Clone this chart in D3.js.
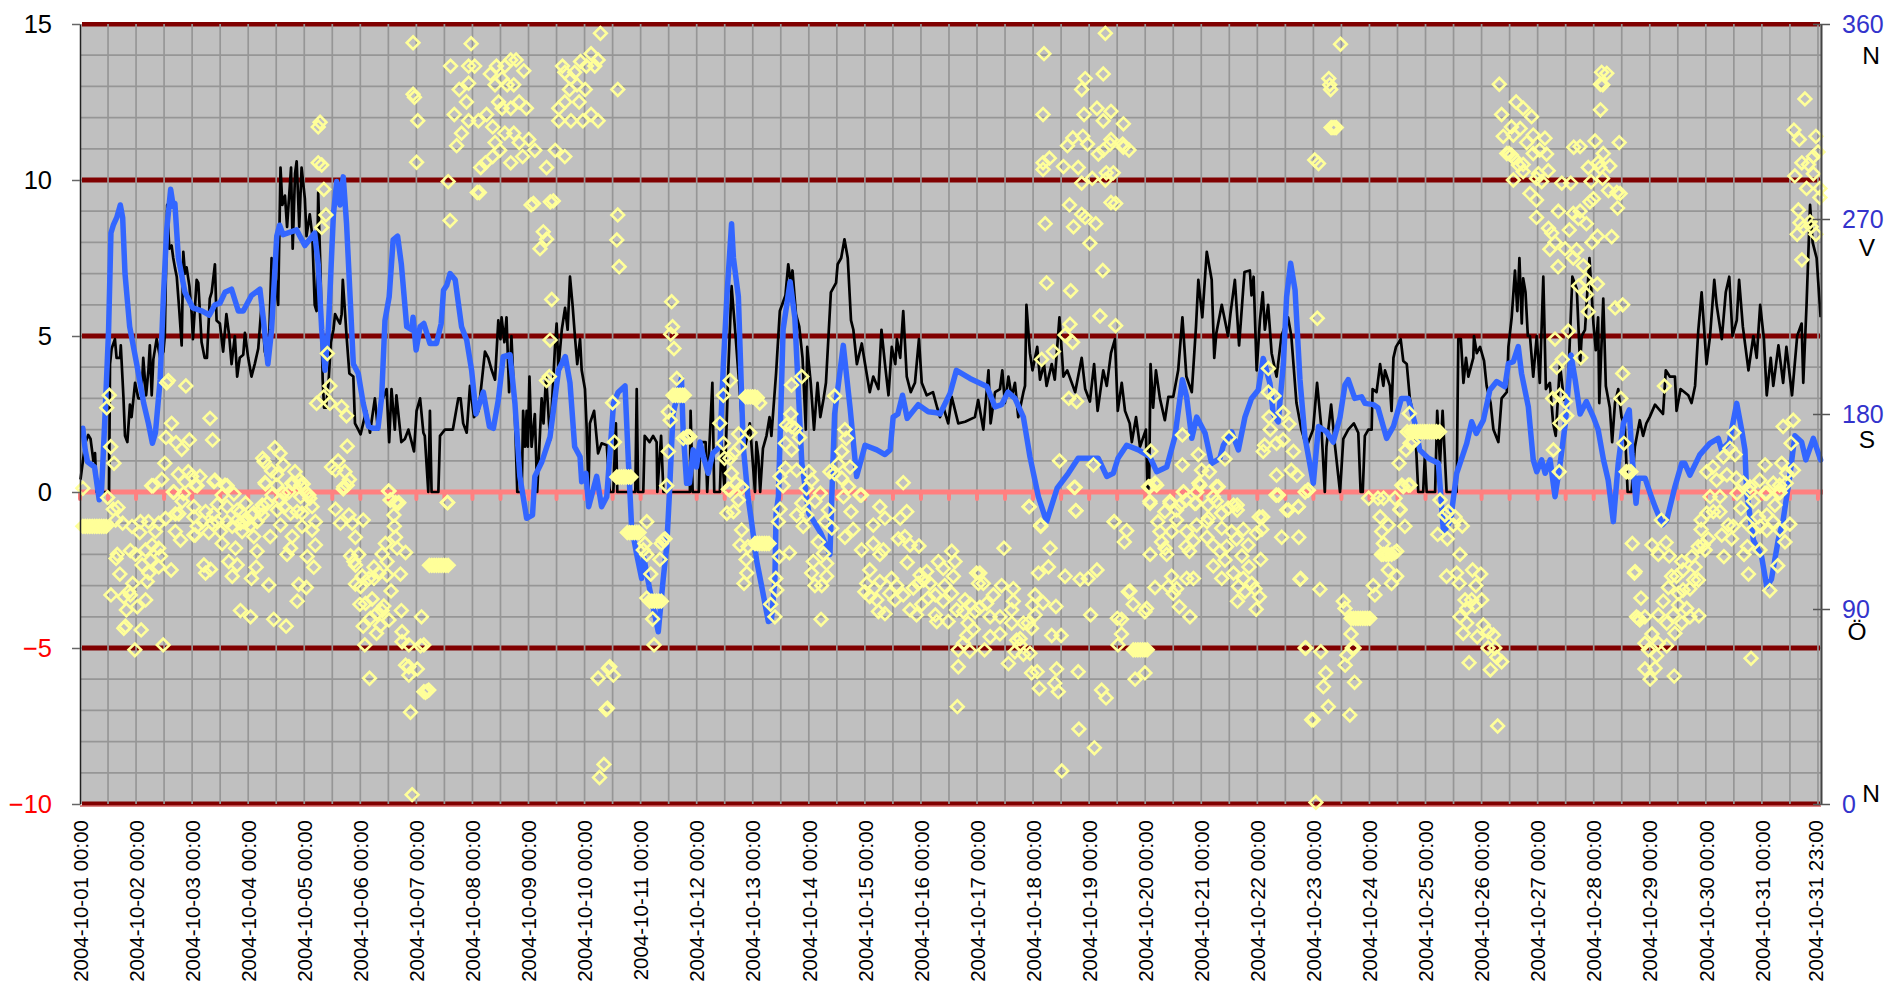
<!DOCTYPE html>
<html>
<head>
<meta charset="utf-8">
<title>2004-10</title>
<script src="https://cdn.jsdelivr.net/npm/d3@7"></script>
<style>
  body { margin: 0; background: #fff; }
  text { font-family: "Liberation Sans", Arial, sans-serif; }
</style>
</head>
<body>
<script>
// All series: [hour since 2004-10-01 00:00, value]
var blackPoints = [[0,0.4],[2,1.56],[3.3,1.83],[4.3,1.7],[5.5,1],[6.2,1.25],[6.9,0],[11.2,0],[12.2,0],[12.6,4.1],[13.3,4.6],[14.7,4.9],[15.4,4.3],[16.9,4.3],[17.2,4.7],[18.3,3.1],[19,1.8],[20,1.6],[21.1,2.8],[21.8,2.4],[23.3,3.5],[24.7,3],[26,3],[26.8,4.3],[28,3.1],[29,3.9],[29.6,4.7],[30.4,3.1],[31.1,4.25],[32.5,4.9],[34,4.3],[35.4,4.5],[36,5],[37,9.2],[37.9,7.8],[38.9,7.9],[39.6,7.5],[40.3,7.2],[41.1,6.9],[42.2,5.8],[43.2,4.7],[43.9,7.7],[44.6,7],[45.3,7.2],[46.5,6.6],[47.5,5.7],[48,4.9],[49.6,6.8],[50.3,6.7],[51.7,4.8],[53,4.3],[54,4.3],[55.2,6.2],[56,6.4],[57.4,7.3],[58.1,5.5],[59.5,5.4],[60.9,4.5],[62.3,5.7],[63.5,5],[64.5,4.1],[65.9,5],[66.9,3.7],[68,4.3],[69.5,4.4],[70.2,5.1],[71.6,4.3],[73,3.7],[74.4,4.1],[75.9,4.6],[77.3,6],[78.7,4.5],[80.2,4.1],[81.6,7.5],[83.1,7],[84.4,6],[85.4,10.4],[86.2,9.2],[87.3,9.5],[88.2,8.5],[89.9,10.4],[90.6,7.8],[91.6,10.2],[92.3,10.6],[93.4,8.5],[94.4,10.4],[95.8,9.4],[96.5,8.2],[97.9,8.9],[99,8.2],[100,6],[100.8,5.8],[101.5,9.6],[102.5,7],[103.4,3.6],[104,2.7],[104.8,2.7],[105.9,3.5],[106.9,4.8],[108,5.2],[108.7,5.7],[110,5.5],[110.8,5.4],[111.5,5.7],[112,6.8],[113,5.7],[113.6,5],[114.8,3.8],[116.5,3.7],[117.2,2.2],[118.6,2],[119.6,1.85],[120.7,2.2],[122,2.6],[123.6,1.9],[125.7,3],[127,2],[128.6,2.9],[130.7,3.3],[131.8,1.6],[132.8,3.3],[134.2,2],[134.9,3.1],[137,1.6],[138.5,1.7],[140,2],[141.4,1.6],[142.4,1.3],[143.5,2.6],[145,3],[146.4,1.9],[147,1.8],[148.5,0],[149.2,2.6],[149.9,0],[152.8,0],[153.5,1.8],[155.6,2],[157,2],[159,2],[161.3,3],[162.3,3],[163.4,2.2],[164.9,1.9],[166.3,3.4],[168,2.4],[170,2.6],[172.7,4.5],[174.1,4.3],[175.6,3.9],[177,3.6],[178.4,5.5],[179.3,4.9],[179.8,5.6],[181,4.8],[181.9,5.6],[183,3.2],[184,5],[185.5,2.4],[186.5,0],[188.4,0],[189,2.6],[189.8,1.45],[190.5,2.6],[191,1.45],[191.7,3.7],[192.6,1.45],[194,2.5],[195,0],[196.9,3],[197.7,2.2],[198.8,3.7],[200.5,1.67],[202.6,4.65],[203.3,5.4],[204.1,4],[205.5,5.2],[206.9,5.9],[208,5.2],[209,6.9],[210.1,6],[211.1,5],[212.1,4.1],[213.3,4.9],[214,3.9],[215.4,3.3],[216.1,2.1],[216.9,0],[217.5,2.2],[219.3,2.6],[221,1.24],[222.5,1.56],[224.7,1.5],[226,0],[227.5,0],[228.6,2.2],[229.2,0],[236.9,0],[237.5,3.3],[238.1,0],[240.3,0],[240.9,1.8],[243,1.6],[244.5,1.8],[246,1.6],[246.3,0],[247.9,1.8],[248.9,0],[260.2,0],[260.5,2.6],[261.4,0],[264,0],[264.6,1.6],[266.9,1.6],[267.6,0],[269.8,3.5],[270.6,0],[273,0],[273.7,1.6],[275,0],[276.6,3.9],[278,6.6],[279.5,5.2],[280.9,3.8],[282.3,2.4],[283.8,1.45],[285.8,2.2],[288,0],[288.6,1.6],[289.4,1.13],[290.2,0],[291.4,1.4],[292.9,1.8],[294.2,2.4],[295,1.8],[297,3.8],[298.6,5.8],[301,6.3],[302.2,7.3],[303.3,6.7],[304,7.1],[305.5,5.7],[306.9,5.3],[308.3,4.3],[309.7,2],[310.3,4.65],[311.8,3.5],[313.2,2],[314.7,3.5],[315.9,2.4],[317.3,3],[318.3,3.5],[320.4,6.4],[322.6,6.7],[323.3,7.3],[324.8,7.5],[326.2,8.1],[327.6,7.5],[329,5.5],[330,5.2],[331.5,4.1],[333.6,4.76],[335,4.1],[337,3.2],[338.5,3.7],[340.7,3.3],[342,5.2],[343.5,4.1],[345,3.1],[346.4,4.65],[347.9,4.1],[348.6,4.9],[350,4.3],[351.3,5.8],[352.8,3.7],[354.5,3.2],[356.3,3.5],[358,4.9],[359.2,3.5],[361.3,3.1],[364,3.2],[365.8,2.7],[367,2.4],[368.5,2.7],[370.5,2.2],[372,3.05],[374.8,2.2],[377.7,2.25],[381.9,2.4],[383.3,2.95],[385.5,2],[387.7,3.9],[388.6,2.2],[390.5,3.2],[392.6,3.3],[393.6,3.9],[394.7,2.85],[396.2,3.7],[397.6,3.05],[399,3.5],[400.4,2.4],[402.6,3.2],[403.3,3.4],[403.9,6],[405.4,4.45],[406.5,3.9],[408.5,4.65],[409.7,3.6],[411.4,4.1],[412.5,3.4],[414.7,4.1],[416,3.6],[418,5.6],[419.7,3.7],[421.3,3.9],[424.7,3.2],[427.5,4.3],[429,3.3],[431,2.9],[432.8,4.1],[434.3,2.6],[436.7,3.9],[438.2,3.4],[440,4.45],[441.7,4.9],[442.9,2.6],[444.6,3.5],[446,2.6],[448,2.2],[448.9,1.6],[450.7,2.4],[452.4,1.45],[454.9,2],[455.7,0],[456.3,0.3],[456.9,4.1],[458,2.7],[459.2,3.9],[460.9,3],[463,2.3],[464.5,3.05],[466.6,3.05],[468.7,3.9],[470.5,5.6],[472.2,3.7],[474.5,3.2],[476.3,5.3],[477.3,6.8],[479,5.6],[480.9,7.7],[483,6.8],[484.1,4.3],[485,5.1],[487.3,6],[490,5],[491,5.7],[492.9,6.8],[494.7,4.7],[497,7.05],[499.3,7.1],[500,6.3],[500.9,6.9],[502.2,3.9],[503.6,5.5],[504.8,6.4],[505.7,5.2],[507.1,6],[508.6,4.45],[510.7,3.7],[512.8,5],[515.6,5.6],[517,5],[519.2,2.85],[521.3,2],[523.5,1.45],[526.3,2],[528,3.5],[529.9,2],[531.3,0],[532,1.45],[534,2.8],[535.7,1.45],[537.8,0],[539.2,1.7],[541.3,2],[543.7,2.2],[545.6,1.9],[546.6,0],[547.5,0],[548.4,1.8],[549.9,2],[551.3,2],[551.7,3.3],[553.4,3.2],[554.9,4.1],[556.3,3.4],[557,3.9],[559.1,3.4],[559.8,2.6],[560.6,4.3],[561.7,4.65],[563.7,4.9],[564.8,4.2],[566.3,4.1],[567.6,3],[569.8,2.2],[571.2,0],[573.3,0],[574,1.13],[574.8,0],[578.4,0],[579.3,2.6],[580.5,0.92],[581.6,2.6],[583.3,0],[587.6,0],[588.3,4.9],[589.4,4.9],[590.5,3.5],[591.6,4.3],[592.6,3.7],[594.7,4.3],[595,5],[596.2,4.45],[597.6,4.65],[599.3,4.2],[600.4,3.4],[602.1,2.85],[603.3,2],[605.4,1.6],[606.8,3],[609,3.2],[609.7,4.65],[611.1,5.6],[612.5,7.1],[613.5,5.8],[614.4,7.5],[615.4,5.4],[616,6.85],[617,6.4],[618,5],[618.9,5],[620.3,3.7],[621.8,5],[623.1,3.5],[624.6,6.9],[625.7,3.3],[627.4,3.5],[628.8,2.2],[629.9,1.8],[631.7,4.1],[633.4,2.95],[635,3.1],[637,6.9],[638.9,6.5],[640.3,4.1],[641,5],[642.4,5.2],[644.3,7.5],[646,5.4],[647,4.55],[648,5.6],[648.5,2.85],[650.2,6.2],[651.3,3.4],[653,2.7],[654,1.6],[655.2,2.85],[656.6,3.3],[658,2.4],[659.4,2.1],[660.6,0],[662.3,0],[663.7,1.45],[665.8,2.3],[667.2,1.8],[668.6,2.2],[670,2.4],[672.3,2.8],[675.7,2.5],[676.9,3.9],[678.6,3.7],[680.8,3.7],[681.5,2.6],[683.2,3.3],[686.5,3.1],[687.9,2.85],[689.4,3.4],[690.8,5.2],[692.2,6.4],[693.2,5.3],[694.3,4.1],[695.8,5],[697.6,6.8],[698.6,6],[700.8,4.9],[702.5,6.4],[704,6.9],[705.4,5],[707.2,5.5],[708.2,6.8],[709.8,5.3],[712.2,3.9],[714.3,5],[715.7,4.3],[717.2,6],[718.8,4.9],[720,3.1],[721.7,4.3],[722.8,3.4],[725,4.7],[727,3.5],[728.4,4.65],[730.8,3.1],[733,5],[734.9,5.4],[735.6,3.5],[737,6],[738.5,9.2],[739.6,8],[741.3,7.5],[743,5.6]];

var bluePoints = [[1,2.04],[2,1.35],[3,0.97],[6,0.8],[8,-0.25],[9,0.06],[10.5,2.5],[12,5.2],[13,8.3],[14,8.55],[15.5,8.8],[17,9.2],[18,8.8],[19,7],[21,5.3],[24,4.1],[27,2.84],[29,2.2],[30.7,1.56],[32,1.9],[34,3.6],[35.4,6.26],[36.8,8.4],[38.5,9.7],[39.6,9.15],[40.3,9.25],[41.8,7.5],[44.6,6.4],[48,5.9],[52,5.8],[55,5.67],[57.4,6],[59.5,6.05],[61.7,6.4],[64.5,6.5],[67.4,5.8],[69.5,5.8],[73,6.3],[76.6,6.5],[78,5.6],[80,4.1],[81.6,5.2],[83.8,8.2],[85,8.55],[86.5,8.25],[92.3,8.4],[93.7,8.2],[95.8,7.9],[100,8.3],[101.5,7.3],[103,5.2],[104.4,3.9],[105.8,5.2],[108,8.9],[109.4,9.95],[110.8,9.2],[112.2,10.1],[113.6,8.6],[116.5,4.1],[118.6,3.8],[120.7,2.85],[123,2.1],[125,2.04],[127,2.04],[128.6,3.05],[130,5.5],[131.8,6.26],[133.5,8.08],[135.4,8.2],[137,7.3],[139.3,5.3],[141.4,5.2],[142,5.6],[143.3,4.55],[145,5.3],[146.6,5.4],[149.2,4.76],[152,4.76],[154,5.4],[155,6.47],[156.4,6.63],[157.8,7],[160,6.8],[162.7,5.3],[164.9,4.87],[167,3.9],[168.9,2.5],[172,3.2],[174.6,2.1],[176.3,2.04],[178.4,2.95],[180.5,4.34],[183.4,4.4],[185.5,2.84],[187.6,0.5],[190.5,-0.84],[193,-0.74],[194,0.5],[197,0.97],[200.5,1.77],[204.1,3.9],[207,4.34],[209,3.5],[211,1.45],[213.3,1.13],[214,0.33],[215.8,0.6],[217,-0.47],[220.4,0.5],[222.5,-0.47],[224.7,-0.15],[227.6,2.84],[229.6,3.2],[232.5,3.4],[234,0.9],[235.3,-1.1],[237.5,-2],[239.6,-2.77],[240.5,-2.1],[243,-3.1],[246.7,-4.48],[248.8,-2.8],[250.3,-1.75],[251.4,-0.15],[253,2.5],[256.6,3.64],[257.3,2],[258.8,0.28],[260,0.28],[261.6,1.35],[263,0.8],[264.5,1.6],[266,1.13],[268,0.6],[270,1.24],[273,1.45],[274.5,4.1],[276,6.26],[278,8.6],[278.8,7.5],[280.9,6.26],[283,1.45],[285,-0.15],[286.6,-1],[288.7,-2.2],[290.8,-3],[293.7,-4.15],[295,-4.1],[296.5,-2.8],[297,-0.7],[298,-0.15],[300,5.2],[303,6.74],[305,5.6],[308,0.92],[311,-0.68],[316,-1.3],[320,-2],[320.8,-0.15],[322,2.5],[325.7,4.7],[328.6,2.7],[331.4,0.5],[335,1.5],[340,1.35],[343.5,1.2],[345.7,1.35],[347,2.4],[349,2.5],[351,3.1],[353,2.36],[357.7,2.8],[362,2.57],[365.5,2.54],[367,2.5],[371.3,3.16],[374,3.9],[379.8,3.64],[387,3.38],[390.5,2.73],[393.3,2.8],[396,3.2],[399,3],[402.6,2.4],[405.4,1.13],[409,-0.15],[412.5,-0.95],[417,0.12],[421.8,0.6],[426,1.08],[430.3,1.08],[434.6,1.08],[438.2,0.5],[441,0.6],[443,1.08],[446.7,1.5],[451.7,1.35],[456.6,1.13],[459.5,0.65],[463.8,0.8],[467.3,1.77],[470.5,3.6],[472.3,3.05],[474.5,1.72],[476.6,2.4],[480.2,1.88],[483,0.92],[486.5,1.08],[488,1.5],[491.5,1.93],[494.4,1.35],[497.2,2.4],[500,3],[502.9,3.27],[505,4.28],[507.9,3.48],[509.3,2.5],[511.4,2.25],[513.6,4.1],[515,6.26],[516.7,7.33],[518.6,6.47],[520.7,3.6],[522.8,1.77],[526.4,0.28],[528.6,2.1],[532,1.93],[534.9,1.6],[537.8,2.4],[539.9,3.43],[541.3,3.6],[544.1,3],[547,3.05],[548.5,2.84],[552,2.8],[554,2.7],[557.7,1.72],[560.6,2.1],[564,3],[566.9,3],[569.8,2.2],[571.8,1.35],[575.5,1.08],[579.8,0.92],[582,-1.3],[585,-0.9],[587.6,0.6],[591.9,1.56],[594,2.25],[596,1.88],[599,2.3],[601.8,3.27],[604.7,3.54],[608.2,3.38],[609.7,4.12],[611.8,4.18],[613.9,4.66],[615.3,3.8],[618.2,2.73],[620.3,1.03],[621.8,0.65],[623.9,1.03],[625.4,0.6],[627.5,1.03],[629.6,-0.15],[631.8,0.92],[634,2.2],[636.4,4.39],[638.2,3.6],[640.3,2.5],[643,2.9],[646,2.4],[648,2],[650.3,1.03],[652.3,0.38],[654.5,-0.95],[656.6,0.92],[658.8,2.2],[661.3,2.63],[662.4,1.24],[664.2,-0.36],[665.2,0.44],[668.1,0.44],[670.2,-0.04],[672.3,-0.47],[675.5,-1.05],[677.3,-0.9],[680.8,0.17],[683.7,0.92],[685,0.92],[687.2,0.54],[691.4,1.19],[695.7,1.56],[699.3,1.72],[700.7,1.35],[704,1.6],[707.2,2.84],[709.3,1.99],[710.7,1.35],[711.4,0],[714.3,-1.54],[717.8,-2.07],[720,-3.03],[722,-2.8],[724.9,-1.54],[727,-0.9],[729.8,0.49],[732,1.8],[734.9,1.6],[736.7,1.03],[739.9,1.72],[743,1.03]];

var dirPoints = [[1,0.12],[1,-1.1],[2,-1.1],[3,-1.1],[4,-1.1],[5,-1.1],[6,-1.1],[7,-1.1],[8,-1.1],[9,-1.1],[10,-1.1],[11,-1.1],[11.2,2.7],[12.3,3.1],[12.9,1.45],[14.3,0.92],[11.6,-0.18],[14,-0.55],[16,-0.5],[15,-0.9],[18,-1],[22,-1.1],[25.6,-0.95],[25.3,-1.3],[29,-0.95],[32,-1.27],[33.4,-1],[36.3,-0.85],[40.5,-0.7],[42,-0.7],[40.5,-1.27],[42.7,-1.54],[49,-1.38],[48.4,-0.8],[31,0.2],[39.9,0],[44,-0.05],[43.4,-0.3],[48.4,-0.47],[49.8,0.2],[57,0.33],[62.6,0.2],[60.5,-0.1],[65.5,-0.06],[58.4,-0.4],[62.6,-0.47],[70.5,-0.36],[68.3,-0.63],[53.4,-0.63],[56.9,-0.7],[52,-0.95],[54.8,-1.3],[58.4,-0.95],[62.6,-0.95],[60.5,-1.65],[59.8,-1.27],[66.9,-0.9],[69.7,-0.95],[69,-1.27],[73.3,-0.74],[74,-1.43],[77.6,-0.42],[75.4,-0.95],[79,0.26],[81.8,-0.1],[86.8,-0.47],[91,0.28],[89,0],[85.4,-1.06],[89.7,-0.68],[94,0.22],[97.5,-0.1],[98.9,-0.47],[94.6,-1.1],[98.9,-1.22],[100.3,-0.95],[81,-1.43],[90.4,-1.43],[75.4,-1.9],[66.2,-1.8],[89.7,-1.8],[88.2,-2],[100.3,-1.7],[96.8,-2.07],[99.6,-2.41],[75,-2.41],[73,-2.77],[80.4,-2.98],[64.8,-2.7],[66.9,-2.34],[63.3,-2.23],[52.7,-2.34],[55.5,-2.48],[53.4,-2.6],[93.2,-2.96],[96.4,-3.06],[92.5,-3.5],[68.3,-3.8],[72.6,-4],[82.5,-4.08],[87.8,-4.3],[15.2,-2.13],[15.7,-2],[21.3,-1.88],[23.5,-2],[27.8,-1.86],[30.6,-1.7],[33.4,-1.8],[29.9,-2.18],[26.3,-2.34],[34.2,-2.05],[33.4,-2.4],[29.2,-2.6],[38.7,-2.5],[16.8,-2.63],[28.5,-2.87],[22.3,-2.93],[20.6,-3.2],[13,-3.3],[18.5,-3.36],[21.3,-3.3],[27.8,-3.46],[24.2,-3.68],[19.6,-3.78],[19.2,-4.3],[18.5,-4.37],[25.9,-4.42],[23.2,-5.06],[35.3,-4.9],[66.9,-0.58],[71.2,-0.9],[72.6,-1.06],[76.9,-0.58],[79.7,-0.36],[84,-0.58],[68.3,-1],[64.8,-1.1],[56.2,-1],[49.8,-1.1],[48.4,-1.38],[92.5,-0.63],[94.6,-0.68],[74,-0.68],[77.6,-0.74],[85.4,-0.26],[94,-0.15],[108.9,-0.55],[111,-1],[114.6,-0.74],[116,-1],[120.7,-0.9],[117.4,-1.45],[112.4,0.17],[113.9,0.22],[131.7,0.03],[132.4,-0.26],[134.5,-0.34],[135.9,-0.34],[133.8,-0.74],[134,-1.1],[134.5,-1.45],[130.2,-1.65],[135.2,-1.8],[138.8,-1.94],[128.8,-1.99],[115.3,-2.05],[118.8,-2],[116.7,-2.23],[117.4,-2.34],[130.9,-2.23],[125.3,-2.41],[136.6,-2.63],[127.4,-2.6],[130.9,-2.66],[120.3,-2.7],[123.1,-2.77],[125.3,-2.77],[117.4,-2.95],[119.6,-3.03],[132.6,-3.17],[119.3,-3.6],[121.7,-3.57],[124.5,-3.43],[129.5,-3.65],[128.8,-3.8],[126.4,-3.9],[123.8,-4.05],[137,-3.8],[145.6,-4],[131.7,-4.1],[128,-4.28],[120.7,-4.3],[126.4,-4.53],[137.3,-4.48],[137.3,-4.8],[140.2,-4.9],[145.2,-4.93],[146.6,-4.9],[121.4,-4.9],[138.8,-5.55],[140.2,-5.6],[143.8,-5.67],[140.2,-5.87],[123.4,-5.97],[146.6,-6.4],[147.3,-6.42],[148,-6.38],[148.7,-6.35],[140.9,-7.06],[141.6,-9.7],[156.8,-0.34],[149,-2.35],[150,-2.35],[151,-2.35],[152,-2.35],[153,-2.35],[154,-2.35],[155,-2.35],[156,-2.35],[157,-2.35],
[37.5,3.57],[36.8,3.5],[45,3.4],[55.3,2.36],[38.9,2.2],[36.5,1.75],[56.4,1.67],[40.8,1.58],[46.5,1.67],[43.2,1.37],[36,0.92],[34.7,0.4],[30.4,0.2],[41.8,0.57],[46,0.65],[47.5,0.5],[51,0.5],[48.9,0.22],[44.6,0.33],[39.6,0],[57.4,0.38],[61.7,0.22],[77.8,1.08],[78.4,0.97],[83,1.42],[85.2,1.24],[86.6,0.87],[81.6,0.68],[83.8,0.57],[78.8,0.3],[91.6,0.65],[90.2,0.28],[93.7,0.36],[95.1,0.26],[83.8,0.22],[86.6,-0.04],[96.6,-0.04],[97.9,-0.2],[100.8,2.84],[103.9,3.05],[106.5,3.4],[105.4,4.44],[103,8.48],[104.8,8.88],[103.9,9.7],[101.5,10.55],[103,10.48],[106.5,2.84],[111.5,2.73],[113.6,2.44],[113.9,1.47],[110,1],[107.2,0.8],[108.9,0.7],[112.9,0.65],[114.8,0.4],[112.2,0.1],[131.5,0.03],[156.6,-0.34],[132.2,-0.26],[135.7,-0.36],[143.5,10.57],[157,9.95],[170.3,9.6],[157.8,8.7],[142,14.4],[142,12.75],[142.6,12.65],[144,11.9],[102.3,11.85],[101.5,11.7],[158,13.65],[165.7,13.65],[160.6,11.1],[159.6,12.1],[161.7,12.9],[166.8,14.37],[165.7,13.1],[168.3,13.65],[164.8,12.5],[162.7,11.5],[165.7,11.9],[169.4,9.6],[170.9,10.4],[172.9,10.55],[176,10.75],[169.9,11.9],[173.4,12.1],[176,11.7],[178.5,12.5],[181.2,13.65],[183.7,13.85],[186,13.85],[189.3,13.5],[175,13.4],[177.6,13.65],[180,13.25],[182.2,13.05],[185,13.05],[177,13.05],[180,12.3],[183.7,12.3],[187.3,12.5],[190.4,12.3],[177,11.2],[181.2,11.5],[185,11.5],[187.3,11.2],[191.4,11.3],[179,10.95],[183.7,10.55],[188.8,10.75],[194,10.95],[192.4,9.2],[200.6,9.3],[197.6,8.34],[199,8.1],[196.2,7.8],[201.2,6.17],[199,10.4],[202.7,10.95],[206.8,10.75],[204.2,12.3],[206.8,13.45],[209.4,13.25],[212,13.05],[215.5,12.9],[218,14.05],[222,14.7],[221,13.85],[219.6,13.65],[216,13.65],[213.5,13.8],[211,13.45],[205.8,13.65],[208.8,12.9],[212.9,12.5],[206.8,12.5],[204.2,11.9],[209.4,11.9],[214.5,11.9],[218,12.1],[221,11.9],[229.4,12.9],[229.4,8.88],[229,8.08],[230,7.22],[199,3.57],[193.4,9.25],[201.9,9.33],[200.5,4.87],[200.2,3.7],[227.2,2.86],[228,1.6],[229,0.48],[230,0.48],[231,0.48],[232,0.48],[233,0.48],[234,0.48],[235,0.48],[250.3,0.2],[251,1.3],[251,2.57],[251.8,2.3],[252.4,6.1],[252.8,5.3],[252,5.06],[253.4,4.6],[254.6,3.64],[254,3.1],[253,3.1],[255,3.1],[256,3.1],[257,3.1],[257.8,3.1],[258.8,1.77],[257.4,1.72],[259.5,1.77],[260.2,1.77],[274.5,3.1],[273,2.2],[277.4,3.57],[274.5,1.56],[275,1.08],[277.3,1.08],[278.8,1.24],[281,1.86],[281.5,1.45],[285.8,1.9],[278,0.6],[280,0.28],[282.3,0.15],[276.6,0.09],[284,3.05],[285,3.05],[286,3.05],[287,3.05],[288,3.05],[289,3.02],[290,2.85],[303.6,3.43],[308,3.7],[303.3,2.5],[301.5,2.15],[303.6,2.1],[305,2.04],[307,1.75],[301,1.56],[303.6,1.35],[301,0.76],[305.8,0.7],[298.7,0.5],[300,0.2],[311,0.65],[312.2,0.38],[310,0.12],[322,3.08],[326.4,2],[327,1.72],[325.1,1.3],[323.6,0.9],[320,0.65],[322,0.6],[325,0.44],[328.6,0.8],[328,0.17],[315.9,-0.04],[333.5,-0.1],[351.3,0.3],
[241.8,-0.95],[233.5,-1.3],[234.5,-1.3],[235.5,-1.3],[236.5,-1.3],[237.5,-1.3],[238.5,-1.3],[241,-1.65],[240.3,-1.86],[241.8,-2],[247.4,-2.16],[248.8,-1.54],[248,-1.65],[249.6,-1.5],[243.5,-2.63],[241.8,-3.4],[243,-3.5],[244,-3.5],[245,-3.5],[246,-3.5],[247,-3.5],[248,-3.5],[244.3,-4.07],[244.9,-4.9],[226,-5.6],[225.4,-5.65],[227.5,-5.87],[221,-5.97],[224.4,-6.97],[225,-6.93],[223.5,-8.73],[221.6,-9.15],[277.3,0.06],[280.9,-0.26],[276,-0.68],[278.8,-0.63],[282.3,-1.22],[281.6,-1.7],[285,-1.75],[284.2,-2.16],[284.5,-2.6],[283.3,-2.93],[288,-1.65],[289,-1.65],[290,-1.65],[291,-1.65],[292,-1.65],[293,-1.65],[294,-1.65],[298.7,-0.55],[298,-0.95],[302.7,-1.95],[298.4,-2.07],[296.9,-2.77],[297.3,-3.14],[294.7,-3.6],[296.5,-4],[305.8,-0.74],[308.6,-1.1],[308,-0.36],[313.6,-0.3],[310.1,-0.74],[317.9,-0.95],[320.8,-1.16],[319.3,-0.58],[315,-1.6],[317.2,-1.97],[312.9,-2.23],[318.6,-2.29],[312.2,-2.6],[318.6,-2.7],[313.6,-3],[316.5,-3],[316.2,-4.08],[326.4,-1.45],[329.9,-1.2],[329,-0.63],[332.9,-0.1],[325.8,-0.15],[333.5,-1.86],[338.5,-1.65],[342.8,-1.86],[341.3,-2],[338.5,-1.06],[341.3,-0.47],[343.5,-0.84],[350,-0.84],[352.8,-0.63],[349.2,-1.5],[352,-1.43],[354.2,-1.7],[358,-1.73],[353,-2.26],[337,-2.5],[335.7,-2.93],[334.9,-3.2],[337,-3.35],[339,-3.08],[341.3,-2.87],[346.3,-2.77],[345.6,-3.25],[340,-3.46],[340.7,-3.83],[343.5,-3.9],[348.5,-3],[347.8,-3.46],[351.3,-3.3],[354.2,-3.78],[357,-3.94],[359.2,-3.6],[355.6,-3.08],[358.5,-2.66],[361.3,-2.55],[360,-2.82],[362.7,-2.93],[357.7,-2.93],[366.3,-2.23],[368.4,-2.45],[372,-1.9],[373.4,-2.23],[372.7,-2.7],[369,-3],[372,-3.25],[365,-3.3],[362,-3.4],[368.4,-3.5],[365,-3.94],[365.6,-4.15],[370.5,-4.15],[374.1,-3.78],[377.7,-3.46],[377,-3.83],[382.6,-2.6],[383.4,-2.93],[380,-3.6],[382,-3.83],[379,-4.2],[381.2,-4.4],[378.4,-4.6],[377,-4.85],[374.8,-5.06],[379.7,-5.1],[374.8,-5.6],[374.4,-6.88],
[384,-2.6],[385.5,-2.93],[389.8,-3.3],[393.3,-3],[398.3,-3.1],[384,-3.7],[386.9,-3.57],[388.4,-4],[392.6,-4],[397.6,-3.78],[398.3,-3.5],[407.6,-3.3],[411,-3.55],[406.6,-3.62],[416.5,-3.67],[407.6,-3.94],[397.6,-4.2],[402.6,-4.2],[404.7,-4.2],[406.1,-4.37],[392.6,-4.55],[388.4,-4.64],[414.7,-4.6],[418.7,-4.6],[401.2,-4.7],[399.7,-4.75],[386,-5.06],[399,-5.12],[401.2,-4.9],[402.6,-5.2],[405.4,-5.17],[396.2,-5.5],[406.1,-5.8],[408.5,-5.76],[416.8,-5.67],[426,-5.76],[409.4,-6.3],[416,-6.13],[417.5,-6.4],[436,-6.35],[437.9,-6.6],[426.3,-7.6],[432.9,-8.2],[419,-8.94],[394.3,-1.8],[405.1,-0.47],[410,-1.1],[414,-1.8],[413.3,-2.4],[409,-2.6],[420.4,-2.7],[426.8,-2.8],[430.3,-2.77],[434,-2.5],[424.7,0.15],[425,-0.6],[441.4,-0.95],[446.7,-1.24],[445.7,-1.6],[448.1,-3.17],[447.4,-3.2],[449.5,-3.6],[455.2,-3.73],[454.5,-3.84],[431.3,-3.94],[442.7,-4.05],[444.5,-4.08],[444.5,-4.55],[443,-4.9],[449.5,-5.06],[450.5,-5.06],[451.5,-5.06],[452.5,-5.06],[453.5,-5.06],[454.5,-5.06],[455.5,-5.06],[454.5,-5.8],[450.3,-6],[456.7,0.17],[459.5,0.22],[456.7,-0.36],[470.9,0],[478,0.22],[485.8,0.17],[465.2,-0.36],[469.5,-0.42],[463,-0.63],[460,-0.95],[468,-0.9],[460.9,-1.27],[465.9,-1.27],[472.3,-1.27],[476.6,-1.06],[472,-0.26],[476.3,-0.36],[481.5,-0.42],[485,-0.3],[490,-0.52],[493.9,-0.42],[487.3,-0.68],[481,-0.95],[487.3,-1.16],[491.5,-1.27],[496.5,-1.2],[504.8,-0.8],[504.4,-1.2],[502.2,-1.32],[481,-1.45],[493.6,-1.5],[461.6,-1.6],[475.2,-1.56],[472,-1.75],[473.5,-1.9],[463.1,-1.8],[463.8,-2],[456.7,-2],[483.7,-1.7],[489.4,-1.75],[498.6,-1.7],[486.5,-1.9],[488.7,-2.18],[495.9,-2.05],[503.9,-2.16],[498.9,-2.4],[483.7,-2.37],[465.9,-2.7],[472.3,-2.77],[475.2,-2.77],[492.3,-2.6],[487.3,-2.77],[496.5,-2.77],[458.8,-3.06],[464.5,-3.03],[468,-3.1],[466.6,-3.25],[494.4,-3.03],[500.1,-2.93],[497.2,-3.2],[501.5,-3.1],[503.4,-3.36],[494,-3.5],[502,-3.76],[469.2,-3.68],[473.7,-4],[510.5,-0.1],[511.5,-0.1],[515,-0.58],[520,-0.47],[512.9,-1.45],[520.2,-1.45],[521,-2.77],[520.7,-2.8],[529.2,-3.12],[539.2,-3.5],[539.9,-3.73],[522.9,-5],[523.2,-5],[529.6,-5.12],[531.7,-5.8],[530.7,-6.24],[532.8,-6.88],[526.4,-7.3],[525.7,-7.3],[542,-7.15],[527.5,-9.95],[524.3,0.06],[522.9,0],[540,-5.55],[544,-6.1],[540.7,-5.23],[543,-5],[543.4,-5],[543.8,-5],[542.5,-4.55],[542.5,-4.05],[543.5,-4.05],[544.5,-4.05],[545.5,-4.05],[546.5,-4.05],[547.5,-4.05],[548.5,-4.05],[549.5,-4.05],[550.5,-4.05],[552.7,-3.3],[552,-3],[559.8,-2.93],[562,-2.7],[558.4,-2.5],[556.3,-2],[555.5,-2],[557.5,-2],[558.5,-2],[559.8,-2],[561,-1.95],[562,-1.9],[556.3,-1.65],[555.6,-1.27],[558.4,-1.06],[554.9,-0.8],[565.5,-1.1],[563.4,-0.58],[561.3,-0.2],[554,-0.2],[564.2,0.22],[567,0.22],
[410.4,4.25],[415.4,4.5],[420.4,5.03],[422.5,5.38],[423.6,4.8],[435.3,5.64],[442,5.33],[422,3],[425.3,2.9],[418,1],[432.5,0.87],[424.3,0.15],[405,-0.47],[425,-0.6],[412.5,6.7],[422.8,6.45],[436.5,7.1],[411.9,8.6],[424,8.5],[429,8.8],[433.5,8.6],[431,7.97],[442,9.25],[427.5,9.9],[432,10.05],[438,10.23],[441,10.23],[411,10.34],[413.7,10.7],[419.7,10.43],[421.4,11.1],[428,11.4],[434.6,10.83],[436.7,10.96],[439.6,11.15],[445,11.15],[447.7,10.96],[528.1,5.57],[527,10.64],[528.6,10.53],[457,1.31],[456,0.17],[458.8,0.28],[456.6,-0.3],[470.5,1.83],[477.3,1.2],[470.5,0.87],[478.7,0.7],[482,0.65],[490.4,1.75],[488.7,1.06],[507.2,3.96],[507.2,3.2],[509.6,3.08],[513.5,2.54],[507.5,2.4],[516,2.18],[508,2],[505,1.3],[505.6,1.5],[510.7,1.56],[513.5,1.67],[517.9,1.3],[510.7,0.54],[517,0.7],[519.4,0.54],[510.7,-0.1],[524,0.06],[515.8,-0.58],[520,-0.47],[471,0],[476.6,0],[485,0.17],[492.3,-0.42],[493.9,-0.58],[503.3,-0.8],[477.5,0.28],[483.7,-0.15],[475.8,-0.36],[487.3,-0.68],[481.6,-0.84],[465.2,-0.3],[468,-0.58],[441.3,-0.95],[410,-1.06],[411.4,14.05],[411,10.55],[411,12.1],[429,13.25],[437.6,14.7],[436.7,13.4],[427.5,12.9],[428.5,12.1],[434,12.3],[436.7,11.9],[440,12.2],[445.3,11.8],[440,11.3],[423.7,11.35],[430,11.15],[426,10.4],[437.6,10],[440,9.28],[445.3,11.05],[427.5,8.9],[422.3,9.2],
[538,14.35],[533,13.25],[533.4,13.05],[533.8,12.9],[534,11.68],[534.8,11.68],[535.6,11.68],[536.2,11.68],
[550,-0.2],[556.4,-0.2],[563.4,-0.55],[563,0.92],[566,1.35],[567.7,1.56],[569,1.6],[567.4,2.52],[564.8,0.17],[567.7,0.22],[566.5,1.93],[568,1.93],[569,1.93],[570,1.93],[571,1.93],[572,1.93],[573,1.93],[574,1.93],[575,1.93],[576,1.93],[577,1.93],[578,1.93],[579,1.93],[580.3,1.93],
[580.5,-0.26],[582.6,-0.74],[584,-0.63],[586.9,-0.8],[586.2,-1.06],[590,-1.09],[579.5,-1.36],[583.6,-1.5],[589,-2],[583.3,-2.7],[587.6,-2.6],[588.7,-2.93],[594.4,-2.5],[597.9,-2.63],[595.8,-3],[591.2,-3.46],[594,-3.46],[598.3,-3.46],[591.9,-3.73],[589,-4],[595.4,-3.65],[591.9,-4.2],[599,-4.26],[590.4,-4.53],[596.4,-4.64],[601,-4.48],[603.3,-4.58],[601,-5],[603.9,-5],[604.7,-5.3],[606.8,-5.44],[592.9,-5.47],[602,-5.7],[605.1,-7.5],[628.9,1.35],[631.4,0.65],[631.7,2.2],[634.6,2.44],[628.6,3],[631.7,3.1],[634,2.9],[630.3,4],[632.7,4.25],[629.6,4.9],[635.3,5.16],[640.6,4.3],[639.6,6.6],[641.7,7.25],[642.8,6.8],[643,6.33],[643.8,5.78],[647.7,6.67],[655.3,5.9],[658.5,6],[658.5,3.8],[657.7,3],[659,1.56],[660,0.65],[661,0.65],[662,0.65],[676.3,3.4],[609,10.85],[610,10.85],[611,10.8],[612,10.7],[611.8,10],[618.9,9.57],[621.7,9.36],[621.7,8.8],[626.8,8.45],[628.2,8.3],[629.6,8],[627.4,7.78],[630.9,7.22],[633.9,7.8],[637.4,7.5],[638.8,7.76],[635.7,8.4],[637.4,8.93],[639.6,8.77],[643,8.6],[640.3,9],[644.5,9.3],[646,9.4],[645.4,8],[647.7,8.2],[653.8,8.18],[656.3,9.1],[652.4,9.66],[656,9.6],[657.4,9.57],[636.3,9.9],[645,9.95],[649.9,10.05],[648.8,10.4],[653,10.45],[650.2,10.85],[640.3,11.07],[646.7,11.25],[657,11.2],[611.8,11.44],[607.5,11.4],[617.5,11.2],[620.3,11.44],[625.3,11.34],[623,10.96],[620.3,10.85],[626,10.83],[616,10.5],[626.7,10.3],[622.5,10.2],[623.9,9.95],[616,10.27],[621.7,10.05],[614,10.48],[605.8,13.07],[613,12.5],[616,12.3],[619.6,12.03],[611,11.7],[614.7,11.65],[606.8,12.1],[632.5,9.9],[637.6,11.05],[643.8,10.4],[648,10.55],[649,13.07],[651.7,13.42],[650,13.05],[649.5,13.45],[649,12.25],[631,9],[736.3,12.6],[731.6,11.6],[733.9,11.3],[741,11.4],[741.9,10.9],[739.9,10.75],[735,10.55],[737.8,10.5],[732,10.13],[739.9,10.2],[737,9.73],[742.7,9.73],[742.7,9.44],[733.5,9.04],[734.2,8.63],[738.5,8.66],[735.6,8.48],[733,8.26],[741,8.26],[735,7.44],[739,8.5],[706,1.9],[727,2.1],[731.3,2.3],[730.4,1.56],[719.3,0.87],[726.4,0.92],[706.5,1.2],[701.5,1.13],[704.3,1.4],[697,0.8],[694.4,0.65],[698.6,0.38],[703,0.55],[707,0.44],[710,0.28],[717,0.38],[722.8,0.28],[728.5,0.6],[731.4,0.7],[713,0],[719.3,-0.04],[725.7,-0.02],
[662.6,-1.65],[671,-1.7],[677,-1.62],[673.7,-2],[678.4,-2.05],[663.5,-2.6],[663.8,-2.55],[666.3,-3.4],[665.2,-4.05],[665.8,-4.1],[664.4,-4],[668,-4],[675,-0.9],[683.7,-2.23],[688,-2.07],[689.4,-2.4],[679.4,-2.7],[681.5,-2.7],[684.3,-2.5],[688.8,-2.82],[690.8,-2.82],[678,-3.06],[684.3,-3.14],[687.2,-3.1],[682.3,-3.25],[675.8,-3.5],[682.3,-3.62],[685.8,-3.73],[673.7,-3.94],[680.1,-3.94],[677.3,-4.2],[683.7,-4.2],[687.2,-4],[691,-3.97],[680.8,-4.53],[671,-4.55],[668,-4.85],[673.7,-4.85],[677.3,-4.93],[669.5,-5.06],[673,-5.25],[668,-5.67],[672.3,-5.65],[670.2,-6],[680.5,-5.9],[713.3,-5.33],[692,-0.9],[692,-1.2],[695.8,-0.15],[694.4,-0.68],[697.2,-0.63],[692.9,-1.7],[695,-1.5],[693.7,-1.86],[690.8,-1.75],[701.7,-2.07],[700.8,-1.38],[705,-1.5],[705.7,-1.1],[703.6,-1.06],[700,-0.63],[700,-0.15],[707.3,-0.04],[714.3,-0.3],[709,-0.52],[711.4,-1],[716.4,-0.8],[720,-0.74],[723.5,-0.42],[722.8,-0.95],[717.1,-1.1],[714.3,-1.22],[720,-1.22],[725.6,-1.22],[729.9,-1.03],[727.8,-1.6],[717.1,-1.86],[711.7,-1.75],[710.3,-2],[724.7,-2.36],[712.2,-2.63],[721.3,-3.16],[725.5,0.22],[728.3,0.28],[720,-0.04],[725,-0.04],[712.8,0.17]];

var leftTicks = [-10, -5, 0, 5, 10, 15];
var rightTicks = [0, 90, 180, 270, 360];
var limitLines = [15, 10, 5, -5, -10];
var compassLetters = ["N", "V", "S", "Ö", "N"];
var dayLabels = d3.range(1, 32).map(d => "2004-10-" + String(d).padStart(2, "0") + " 00:00");
dayLabels.push("2004-10-31 23:00");
var labelHours = d3.range(0, 31).map(d => d * 24);
labelHours.push(743);

var svgWidth = 1890;
var svgHeight = 987;
var plot = { left: 80, right: 1821, top: 24, bottom: 804 };

var svg = d3.select("body").append("svg")
  .attr("width", svgWidth)
  .attr("height", svgHeight);

// grid and labels sit on the category axis, marks were read against the plot width
var xCat = d3.scaleLinear().domain([0, 745.3]).range([plot.left, plot.right]);
var xData = d3.scaleLinear().domain([0, 743]).range([80.5, 1820.6]);
var yLeft = d3.scaleLinear().domain([-10, 15]).range([plot.bottom, plot.top]);
var yDir = d3.scaleLinear().domain([0, 360]).range([plot.bottom, plot.top]);

svg.append("defs").append("clipPath").attr("id", "plotClip")
  .append("rect")
  .attr("x", plot.left).attr("y", plot.top - 2)
  .attr("width", plot.right - plot.left).attr("height", plot.bottom - plot.top + 4);

svg.append("rect")
  .attr("x", plot.left).attr("y", plot.top)
  .attr("width", plot.right - plot.left).attr("height", plot.bottom - plot.top)
  .attr("fill", "#c0c0c0");

svg.append("g").selectAll("line")
  .data(d3.range(-9, 15))
  .enter().append("line")
  .attr("x1", plot.left).attr("x2", plot.right)
  .attr("y1", d => yLeft(d)).attr("y2", d => yLeft(d))
  .attr("stroke", "#969696")
  .attr("stroke-width", 1.7);

// dark red limit lines over the horizontal grid, under the vertical one
var clipped = svg.append("g").attr("clip-path", "url(#plotClip)");
clipped.selectAll(".limit")
  .data(limitLines)
  .enter().append("line")
  .attr("x1", plot.left + 2).attr("x2", plot.right - 1)
  .attr("y1", d => yLeft(d)).attr("y2", d => yLeft(d))
  .attr("stroke", "#800000")
  .attr("stroke-width", 5);

svg.append("g").selectAll("line")
  .data(d3.range(12, 745, 12))
  .enter().append("line")
  .attr("x1", d => xCat(d)).attr("x2", d => xCat(d))
  .attr("y1", plot.top).attr("y2", plot.bottom)
  .attr("stroke", "#969696")
  .attr("stroke-width", 1.7);

// pink zero line with its little ticks every 12 hours
var zeroLine = svg.append("g");
zeroLine.selectAll("line")
  .data(d3.range(0, 745, 12))
  .enter().append("line")
  .attr("x1", d => xCat(d)).attr("x2", d => xCat(d))
  .attr("y1", yLeft(0)).attr("y2", yLeft(0) + 7)
  .attr("stroke", "#ff8080")
  .attr("stroke-width", 4)
  .attr("stroke-linecap", "round");
zeroLine.append("line")
  .attr("x1", plot.left - 1).attr("x2", plot.right + 2)
  .attr("y1", yLeft(0)).attr("y2", yLeft(0))
  .attr("stroke", "#ff8080")
  .attr("stroke-width", 5);

svg.append("line")
  .attr("x1", plot.left).attr("x2", plot.right)
  .attr("y1", plot.bottom + 2).attr("y2", plot.bottom + 2)
  .attr("stroke", "#d06060")
  .attr("stroke-width", 1.5);

var lineGen = d3.line()
  .x(d => xData(d[0]))
  .y(d => yLeft(d[1]));

svg.append("path")
  .datum(blackPoints)
  .attr("d", lineGen)
  .attr("fill", "none")
  .attr("stroke", "#000")
  .attr("stroke-width", 2.7)
  .attr("stroke-linejoin", "round");

svg.append("path")
  .datum(bluePoints)
  .attr("d", lineGen)
  .attr("fill", "none")
  .attr("stroke", "#3366ff")
  .attr("stroke-width", 5.5)
  .attr("stroke-linejoin", "round")
  .attr("stroke-linecap", "round");

// wind direction diamonds, read against the left scale
var diamond = d3.symbol().type(d3.symbolSquare).size(80);
svg.append("g").selectAll("path")
  .data(dirPoints)
  .enter().append("path")
  .attr("d", diamond)
  .attr("transform", d => `translate(${xData(d[0])},${yLeft(d[1])}) rotate(45)`)
  .attr("fill", "none")
  .attr("stroke", "#ffff99")
  .attr("stroke-width", 2.6);

// axes
var leftAxis = d3.axisLeft(yLeft)
  .tickValues(leftTicks)
  .tickSizeInner(8).tickSizeOuter(0).tickPadding(20);
var leftG = svg.append("g")
  .attr("transform", `translate(${plot.left},0)`)
  .call(leftAxis);
leftG.select(".domain").attr("stroke", "#222").attr("stroke-width", 1.5);
leftG.selectAll(".tick line").attr("stroke", "#666").attr("stroke-width", 1.5);
leftG.selectAll("text")
  .attr("font-size", 25.5)
  .attr("fill", d => d < 0 ? "#ff0000" : "#000");
leftG.attr("font-family", null);

var rightAxis = d3.axisRight(yDir)
  .tickValues(rightTicks)
  .tickSizeInner(9).tickSizeOuter(0).tickPadding(12);
var rightG = svg.append("g")
  .attr("transform", `translate(${plot.right},0)`)
  .call(rightAxis);
rightG.select(".domain").attr("stroke", "#444").attr("stroke-width", 2);
rightG.selectAll(".tick line").attr("x1", -8).attr("stroke", "#555").attr("stroke-width", 1.5);
rightG.selectAll("text")
  .attr("font-size", 25)
  .attr("fill", "#3333cc");
rightG.attr("font-family", null);

var bottomAxis = d3.axisBottom(xCat)
  .tickValues(labelHours)
  .tickFormat((d, i) => dayLabels[i])
  .tickSize(0);
var bottomG = svg.append("g")
  .attr("transform", `translate(0,${plot.bottom})`)
  .call(bottomAxis);
bottomG.select(".domain").remove();
bottomG.selectAll("text")
  .attr("transform", "rotate(-90)")
  .attr("text-anchor", "end")
  .attr("x", -16).attr("y", 0).attr("dy", "0.35em")
  .attr("font-size", 20.5)
  .attr("fill", "#000");
bottomG.attr("font-family", null);

// compass letters next to the degree axis
var letterX = [1871, 1867, 1867, 1857, 1871];
var letterY = [55, 247, 439, 631, 793];
svg.append("g").selectAll("text")
  .data(compassLetters)
  .enter().append("text")
  .attr("x", (d, i) => letterX[i])
  .attr("y", (d, i) => letterY[i])
  .attr("dy", "0.35em")
  .attr("text-anchor", "middle")
  .attr("font-size", 24.5)
  .attr("fill", "#000")
  .text(d => d);
</script>
</body>
</html>
